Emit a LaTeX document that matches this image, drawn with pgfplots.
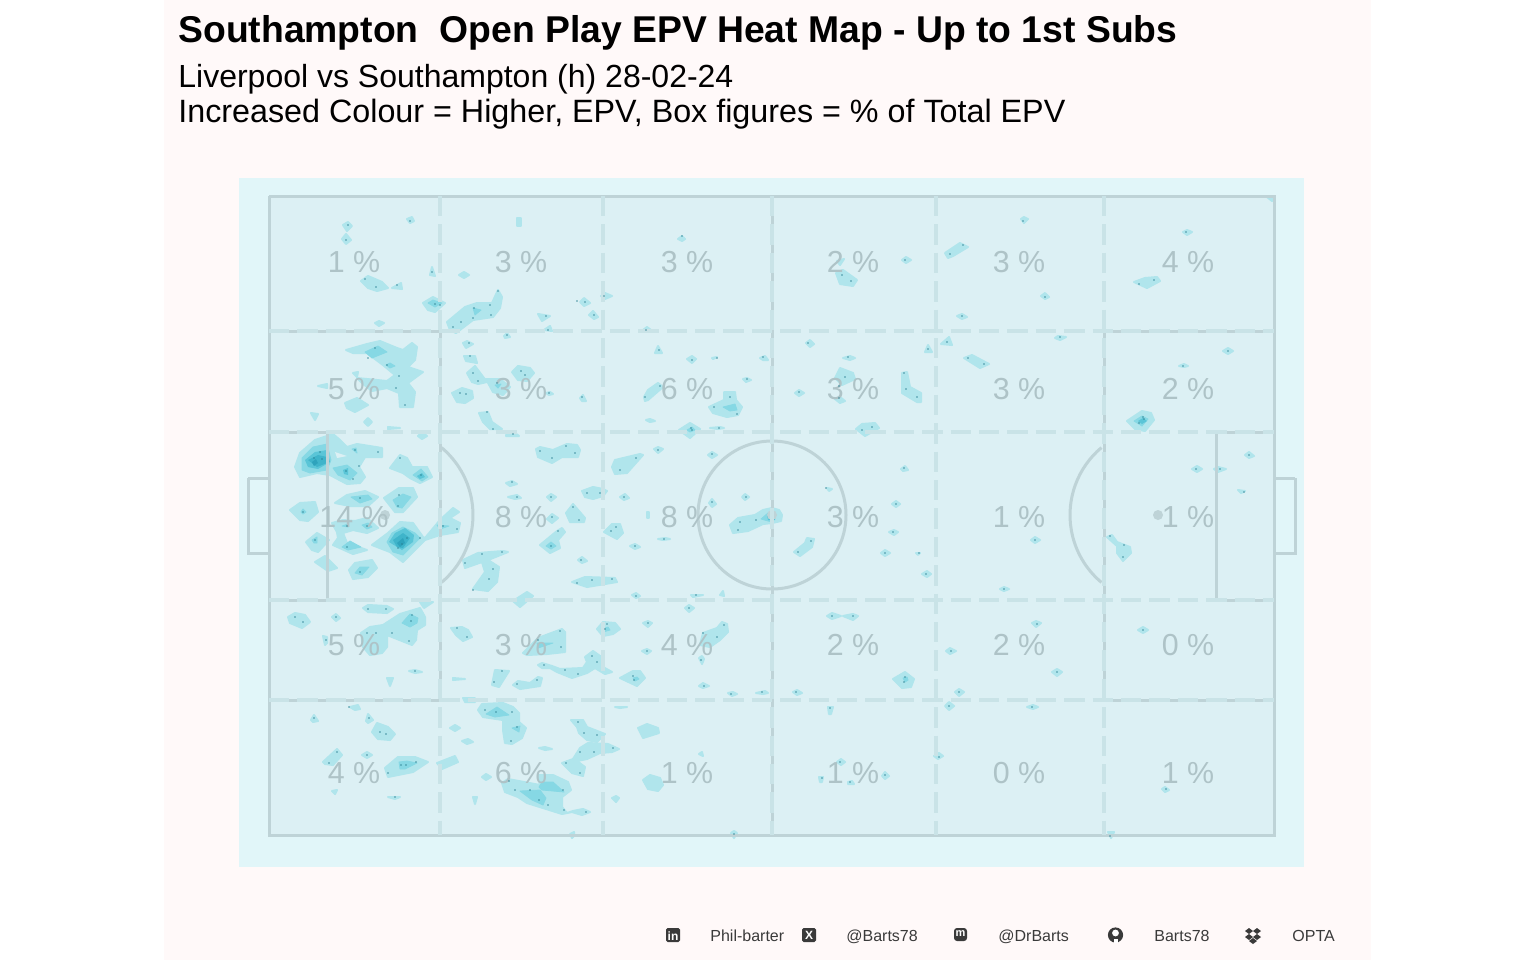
\documentclass[border=0pt]{standalone}
\usepackage{pgfplots}
\pgfplotsset{compat=1.18}
\usepackage{fontspec}
\setmainfont{Liberation Sans}
\definecolor{panel}{HTML}{FFF9F9}
\definecolor{pitchouter}{HTML}{E1F6F9}
\definecolor{pitchin}{HTML}{DCF0F4}
\definecolor{lineS}{HTML}{BED3D7}
\definecolor{lineD}{HTML}{C9E3E7}
\definecolor{pct}{HTML}{AEC3C7}
\definecolor{lvA}{HTML}{B0E5EC}
\definecolor{lvB}{HTML}{86D8E4}
\definecolor{lvC}{HTML}{5AC5D7}
\definecolor{lvD}{HTML}{3FB4CA}
\definecolor{lvE}{HTML}{2EA3BC}
\definecolor{dotc}{HTML}{2A7F90}
\definecolor{foot}{HTML}{3A3A3A}
\newcommand{\A}[1]{\addplot[draw=lvA,line width=1pt,line join=round,fill=lvA] coordinates {#1} --cycle;}
\newcommand{\B}[1]{\addplot[draw=lvB,line width=0.4pt,line join=round,fill=lvB] coordinates {#1} --cycle;}
\newcommand{\C}[1]{\addplot[draw=none,fill=lvC] coordinates {#1} --cycle;}
\newcommand{\D}[1]{\addplot[draw=none,fill=lvD] coordinates {#1} --cycle;}
\newcommand{\E}[1]{\addplot[draw=none,fill=lvE] coordinates {#1} --cycle;}
\newcommand{\pctl}[3]{\node[anchor=base,text=pct,font=\fontsize{15.2pt}{18pt}\selectfont,inner sep=0pt] at (axis cs:#1,#2) {#3};}
\newcommand{\solid}[1]{\addplot[draw=lineS,line width=1.5pt] coordinates {#1};}
\newcommand{\dashd}[1]{\addplot[draw=lineD,line width=2pt,dash pattern=on 10.2pt off 4pt] coordinates {#1};}
\begin{document}
\begin{tikzpicture}
\begin{axis}[width=768pt,height=480pt,scale only axis,xmin=0,xmax=1536,ymin=0,ymax=960,y dir=reverse,hide axis,clip=false]
\fill[white] (axis cs:0,0) rectangle (axis cs:1536,960);
\fill[panel] (axis cs:164,0) rectangle (axis cs:1371,960);
\fill[pitchouter] (axis cs:239,178) rectangle (axis cs:1304,867);
\fill[pitchin] (axis cs:269,196) rectangle (axis cs:1274,835);
% --- contour blobs: left penalty area
\A{(346,350)(367,344)(380,341)(397,348)(403,350)(412,343)(417,347)(415,360)(408,367)(423,372)(408,383)(415,392)(413,407)(400,407)(399,393)(387,388)(372,391)(362,383)(357,378)(387,381)(395,375)(383,365)(367,353)(353,353)}
\B{(365,352)(378,346)(387,352)(372,358)}
\B{(386,365)(390,363)(395,366)(390,368)}
\A{(345,403)(357,398)(368,405)(355,412)(347,408)}
\A{(353,373)(358,372)(357,377)}
\A{(318,386)(327,384)(327,388)}
\A{(311,413)(318,414)(315,420)}
\A{(364,422)(368,418)(372,422)(368,426)}
\A{(388,427)(400,428)(388,429)}
\A{(375,323)(379,321)(384,323)(379,326)}
\A{(418,436)(422,432)(427,436)(422,439)}
\A{(295,467)(300,453)(315,440)(333,434)(340,440)(347,447)(357,444)(382,448)(382,457)(365,457)(359,467)(365,477)(360,483)(347,484)(330,475)(317,473)(300,477)}
\addplot[draw=none,fill=pitchin] coordinates {(335,452)(347,456)(337,458)} --cycle;
\B{(302,458)(313,447)(327,444)(331,460)(327,470)(310,473)(302,470)}
\C{(305,460)(315,452)(327,450)(330,462)(318,469)(308,467)}
\D{(308,460)(318,455)(327,457)(327,463)(317,467)}
\E{(312,462)(316,459)(318,463)(314,466)}
\B{(333,468)(347,465)(357,473)(350,480)(338,475)}
\C{(343,470)(348,468)(348,475)(344,474)}
\B{(352,449)(356,448)(357,453)}
\A{(390,468)(400,455)(407,458)(412,467)(427,467)(432,477)(420,483)(410,478)(403,473)}
\B{(413,475)(421,469)(428,477)(422,481)}
\C{(417,476)(422,473)(425,477)(420,479)}
\A{(384,498)(399,488)(413,488)(417,497)(403,512)(395,512)}
\B{(393,500)(403,494)(411,497)(402,508)(397,507)}
\A{(335,503)(347,495)(365,491)(378,497)(368,506)(350,506)}
\B{(351,497)(368,495)(372,499)(360,503)}
\A{(290,510)(300,503)(315,502)(318,512)(308,521)(300,520)}
\B{(301,512)(303,509)(306,512)(303,514)}
\A{(332,523)(343,520)(355,521)(367,518)(378,528)(367,533)(353,530)(343,533)(347,543)(367,550)(353,554)(333,545)(338,538)(337,532)}
\B{(342,547)(350,541)(361,547)(348,550)}
\B{(362,525)(368,523)(372,527)(367,529)}
\B{(342,526)(348,524)(348,527)}
\A{(306,542)(317,533)(329,540)(318,552)(312,550)}
\B{(312,540)(317,537)(317,543)(314,543)}
\A{(315,562)(325,556)(337,568)(328,571)}
\A{(349,570)(355,563)(372,560)(377,568)(368,577)(353,579)}
\B{(355,573)(360,567)(369,567)(362,575)}
\A{(372,545)(388,533)(400,522)(413,523)(423,537)(425,538)(440,520)(453,508)(459,512)(450,518)(460,523)(458,532)(440,535)(425,540)(403,562)(390,552)}
\B{(387,542)(392,533)(403,527)(415,533)(420,538)(403,555)(393,552)}
\C{(389,542)(395,533)(405,528)(414,535)(413,542)(402,550)}
\D{(393,540)(403,533)(410,538)(403,548)(397,547)}
\E{(397,543)(403,538)(405,543)(400,547)}
\B{(437,525)(449,526)(440,529)}
% --- lower left
\A{(288,617)(295,613)(305,615)(310,622)(302,628)(290,623)}
\A{(332,617)(336,614)(340,618)(336,621)}
\A{(363,608)(368,605)(387,606)(393,609)(387,613)(368,612)}
\A{(420,602)(433,602)(424,608)}
\A{(361,633)(370,627)(383,625)(400,614)(420,608)(425,617)(425,625)(417,630)(416,640)(412,645)(387,635)(387,647)(382,653)(370,655)(363,647)}
\B{(402,623)(410,614)(418,618)(417,623)(410,627)}
\A{(323,636)(327,637)(327,643)(325,645)}
\A{(409,671)(415,670)(422,672)(415,673)}
\A{(387,678)(393,678)(390,686)}
\A{(350,707)(358,705)(360,709)(355,710)}
\A{(311,720)(314,715)(318,721)(313,722)}
\A{(366,721)(368,714)(373,720)(368,723)}
\A{(372,732)(377,723)(388,727)(395,734)(390,740)(378,739)}
\A{(323,762)(337,749)(342,755)(333,765)(325,764)}
\A{(362,755)(367,752)(372,755)(367,758)}
\A{(385,768)(398,757)(415,757)(428,762)(413,772)(388,777)}
\B{(399,762)(407,761)(417,763)(405,769)(400,769)}
\A{(332,791)(337,790)(335,794)}
\A{(388,797)(400,797)(395,799)}
\A{(437,763)(455,756)(458,762)(442,769)}
% --- col 2/3 lower
\A{(513,601)(527,592)(533,596)(520,607)}
\A{(451,628)(462,627)(468,630)(472,637)(463,641)(456,635)}
\A{(523,653)(538,638)(562,629)(565,632)(565,652)(547,654)(527,655)}
\B{(537,643)(553,643)(538,648)}
\A{(492,685)(495,670)(509,671)(499,687)}
\A{(513,685)(518,681)(530,683)(538,677)(542,678)(540,686)(520,689)}
\A{(453,678)(465,679)(453,680)}
\A{(538,665)(542,663)(552,666)(560,669)(583,668)(587,662)(585,657)(593,651)(603,658)(603,667)(612,672)(605,674)(595,668)(587,673)(572,678)(557,672)(550,668)(542,668)}
\A{(597,629)(603,622)(615,623)(620,629)(613,634)(603,636)}
\B{(602,629)(608,627)(610,630)(603,632)}
\A{(643,623)(648,621)(652,623)(648,627)}
\A{(642,651)(647,649)(651,651)(647,654)}
\A{(620,678)(633,671)(640,671)(645,678)(637,686)}
\B{(633,678)(637,677)(639,679)(635,681)}
\A{(463,698)(475,698)(475,702)(465,702)}
\A{(478,710)(482,704)(503,703)(513,707)(519,713)(519,722)(526,728)(522,738)(512,744)(505,743)(503,730)(503,720)(483,717)}
\B{(486,714)(497,707)(509,715)(495,717)}
\B{(512,728)(520,726)(519,732)}
\A{(450,728)(455,725)(460,728)(455,731)}
\A{(462,741)(468,739)(473,742)(467,744)}
\A{(539,748)(545,747)(552,749)(545,750)}
\A{(571,720)(583,720)(587,727)(605,734)(597,742)(587,740)(579,733)(577,727)}
\A{(562,763)(573,759)(580,748)(588,743)(608,744)(619,749)(612,752)(600,753)(587,759)(577,761)(585,767)(583,776)(572,773)}
\A{(502,783)(508,779)(540,785)(538,775)(553,775)(568,782)(571,790)(562,797)(562,807)(567,813)(573,811)(583,809)(590,812)(582,815)(572,812)(562,814)(543,808)(527,803)(518,797)(505,792)}
\B{(539,787)(542,782)(553,782)(564,792)(542,790)}
\B{(520,791)(540,790)(546,798)(543,805)(532,800)}
\A{(482,777)(486,774)(491,777)(486,780)}
\A{(473,797)(477,797)(475,804)}
\A{(612,798)(616,796)(619,798)(616,802)}
\A{(615,707)(627,707)(620,708)}
\A{(638,728)(647,724)(658,728)(659,733)(643,738)}
\A{(643,780)(650,775)(660,778)(663,785)(658,791)(648,789)}
\A{(570,834)(574,832)(574,836)(572,838)}
% --- top rows col 2/3
\A{(517,218)(521,218)(521,226)(517,226)}
\A{(459,275)(464,272)(469,275)(464,278)}
\A{(447,322)(465,307)(477,303)(492,303)(498,290)(502,297)(500,308)(493,317)(473,320)(456,333)(450,330)}
\B{(473,308)(481,310)(475,315)}
\A{(423,303)(433,297)(445,303)(435,312)(428,310)}
\B{(428,303)(433,300)(442,303)(435,307)}
\A{(580,302)(584,298)(590,303)(584,306)}
\A{(589,315)(593,311)(598,317)(594,319)}
\A{(538,314)(550,316)(542,321)}
\A{(544,330)(550,326)(552,331)}
\A{(601,296)(605,293)(612,296)(605,299)}
\A{(678,239)(682,236)(685,239)(682,241)}
\A{(643,330)(647,327)(651,330)(647,332)}
\A{(504,336)(507,333)(510,337)(505,338)}
\A{(463,343)(467,341)(473,344)(466,348)}
\A{(464,356)(475,356)(477,363)(466,361)}
\A{(467,373)(475,366)(487,382)(478,384)(472,382)}
\A{(486,379)(500,379)(510,387)(503,395)(493,392)}
\B{(495,385)(501,384)(498,388)}
\A{(512,372)(518,366)(530,368)(534,373)(527,381)(518,380)}
\A{(452,393)(462,388)(472,391)(473,398)(465,403)(457,402)}
\A{(546,393)(550,392)(553,394)(549,395)}
\A{(580,398)(583,395)(586,401)(582,401)}
\A{(479,413)(488,412)(492,422)(502,429)(490,429)(483,422)}
\A{(506,435)(515,433)(519,436)(506,436)}
\A{(644,397)(648,390)(658,383)(663,387)(648,400)(645,401)}
\A{(709,407)(724,400)(724,392)(735,392)(736,400)(742,407)(738,415)(727,417)(713,413)}
\B{(723,407)(735,404)(737,410)(730,411)}
\A{(646,420)(650,419)(655,421)(650,422)}
\A{(679,430)(690,423)(700,429)(690,438)}
\B{(687,430)(692,427)(695,430)(690,432)}
\A{(710,428)(720,427)(724,428)(718,429)}
\A{(658,346)(662,353)(655,353)}
\A{(687,359)(692,356)(696,359)(692,363)}
\A{(712,358)(717,357)(713,359)}
\A{(760,358)(765,356)(768,360)(763,360)}
\A{(743,379)(747,378)(751,380)(746,382)}
% --- middle band
\A{(536,449)(540,447)(553,450)(567,444)(577,445)(580,450)(578,457)(562,457)(552,463)(538,457)}
\A{(506,483)(512,481)(517,484)(510,486)}
\A{(508,497)(517,495)(521,498)(515,499)}
\A{(547,497)(551,494)(556,497)(551,501)}
\A{(582,491)(593,487)(603,489)(607,491)(603,496)(593,499)(585,497)}
\A{(612,467)(615,460)(640,454)(643,455)(627,473)(615,474)}
\A{(654,449)(658,447)(663,449)(658,453)}
\A{(708,455)(712,452)(717,455)(712,458)}
\A{(620,497)(625,494)(629,498)(624,500)}
\A{(742,497)(745,494)(749,497)(745,500)}
\A{(709,503)(712,499)(716,504)(712,507)}
\A{(566,513)(573,504)(585,518)(584,522)(570,522)}
\A{(547,519)(552,514)(558,518)(552,523)}
\A{(540,545)(557,531)(562,528)(565,532)(558,540)(560,548)(550,553)}
\B{(546,546)(551,542)(556,546)(551,549)}
\A{(604,532)(612,524)(620,524)(623,533)(617,539)}
\A{(630,546)(635,544)(640,547)(635,549)}
\A{(658,539)(665,538)(670,539)(663,540)}
\A{(647,512)(649,512)(649,518)(647,518)}
\A{(578,560)(582,557)(587,561)(582,563)}
\A{(730,525)(738,518)(755,515)(763,510)(772,508)(779,510)(782,515)(781,521)(772,523)(763,524)(748,531)(733,533)}
\B{(761,519)(768,513)(775,515)(773,522)(768,521)}
\C{(767,515)(775,516)(775,520)(768,520)}
\A{(463,560)(478,553)(503,551)(508,552)(488,560)(499,567)(497,582)(488,591)(473,589)(485,572)(482,562)(465,568)}
\A{(572,582)(585,577)(615,578)(617,582)(587,587)}
\A{(632,595)(636,593)(640,596)(636,598)}
\A{(691,595)(703,595)(693,597)}
\A{(720,595)(723,591)(724,596)}
% --- col 3/4 lower
\A{(685,608)(689,605)(694,608)(689,612)}
\A{(703,633)(717,628)(722,622)(727,624)(728,632)(720,640)(710,647)(700,645)}
\A{(699,658)(702,656)(704,659)(702,664)}
\A{(699,686)(703,683)(709,686)(703,688)}
\A{(728,693)(733,692)(737,694)(732,696)}
\A{(756,693)(765,691)(768,693)(763,694)}
\A{(793,692)(797,690)(802,693)(797,695)}
\A{(827,616)(832,613)(841,616)(832,619)}
\A{(843,616)(853,614)(858,616)(853,620)}
\A{(893,679)(905,672)(914,679)(911,687)(902,688)}
\B{(903,678)(907,677)(908,680)(905,682)}
\A{(828,707)(833,707)(831,714)(829,714)}
\A{(699,754)(702,752)(703,756)}
\A{(837,762)(841,759)(845,762)(841,765)}
\A{(819,777)(823,777)(822,782)(820,782)}
\A{(848,782)(852,781)(854,784)(848,784)}
\A{(882,776)(885,772)(889,776)(885,779)}
\A{(731,833)(734,831)(737,833)(734,838)}
% --- upper right
\A{(1021,219)(1024,217)(1028,219)(1024,223)}
\A{(902,260)(906,257)(911,260)(906,263)}
\A{(836,273)(843,270)(857,280)(853,286)(840,284)}
\A{(837,261)(844,259)(840,265)}
\A{(945,253)(960,243)(968,247)(953,256)(948,258)}
\A{(1041,296)(1045,293)(1049,297)(1045,299)}
\A{(957,316)(962,314)(967,317)(962,319)}
\A{(1183,232)(1187,230)(1192,232)(1187,235)}
\A{(1134,282)(1145,278)(1157,277)(1160,281)(1147,288)}
\A{(1267,197)(1273,197)(1272,201)}
\A{(806,343)(810,340)(814,344)(810,347)}
\A{(843,358)(850,356)(855,358)(850,360)}
\A{(925,352)(928,345)(932,352)}
\A{(941,344)(949,337)(952,345)}
\A{(1055,338)(1058,336)(1066,337)(1060,340)}
\A{(964,358)(972,355)(989,364)(980,368)}
\A{(835,378)(840,368)(853,373)(855,379)(842,385)}
\A{(795,393)(799,390)(804,393)(799,396)}
\A{(835,399)(840,397)(845,401)(840,403)}
\A{(902,373)(907,372)(910,387)(921,393)(921,402)(917,402)(902,393)}
\A{(856,429)(862,424)(875,423)(879,428)(865,436)}
\A{(1179,366)(1184,364)(1188,366)(1184,367)}
\A{(1223,351)(1228,348)(1233,351)(1228,354)}
\A{(1127,421)(1142,411)(1151,413)(1154,420)(1145,431)(1135,429)}
\B{(1134,421)(1142,416)(1148,419)(1142,426)}
\C{(1138,421)(1143,418)(1147,421)(1142,424)}
% --- middle right
\A{(901,469)(905,466)(908,470)(903,471)}
\A{(827,488)(832,489)(829,491)}
\A{(892,504)(896,501)(900,504)(896,507)}
\A{(889,532)(894,530)(898,532)(894,535)}
\A{(881,553)(885,550)(890,553)(885,556)}
\A{(794,552)(805,543)(807,538)(814,539)(812,547)(800,556)}
\A{(916,553)(920,553)(918,555)}
\A{(922,574)(927,571)(931,574)(927,577)}
\A{(1031,540)(1035,537)(1040,540)(1035,543)}
\A{(1000,589)(1004,587)(1009,589)(1004,591)}
\A{(1107,537)(1112,535)(1117,542)(1130,547)(1131,553)(1123,561)(1117,553)(1117,546)}
\A{(1192,469)(1197,466)(1202,469)(1197,472)}
\A{(1214,469)(1218,467)(1226,469)(1218,472)}
\A{(1245,455)(1249,452)(1254,456)(1249,458)}
\A{(1238,490)(1245,491)(1241,493)}
% --- lower right
\A{(1032,623)(1036,621)(1041,623)(1036,627)}
\A{(946,651)(950,648)(956,651)(950,654)}
\A{(1052,672)(1057,669)(1062,672)(1057,676)}
\A{(955,692)(959,689)(964,692)(959,696)}
\A{(945,706)(949,702)(954,706)(949,710)}
\A{(1027,707)(1033,705)(1038,707)(1033,709)}
\A{(934,756)(939,753)(943,756)(938,759)}
\A{(1138,630)(1143,627)(1148,630)(1143,633)}
\A{(1162,789)(1165,787)(1169,790)(1165,792)}
\A{(1108,832)(1114,832)(1111,838)}
% --- top left
\A{(343,225)(348,222)(352,226)(347,231)}
\A{(342,239)(346,234)(351,240)(346,244)}
\A{(361,281)(368,276)(382,282)(388,288)(377,291)(368,288)}
\A{(392,288)(401,283)(402,289)}
\A{(407,219)(412,217)(414,221)(410,223)}
\A{(430,275)(432,267)(435,276)}
% --- event dots
\addplot[only marks,mark=*,mark size=0.16pt,color=dotc,opacity=0.75] coordinates {
(368,358)(375,348)(387,365)(399,376)(396,388)(405,405)(355,450)(320,452)(314,458)(322,459)(346,471)(359,466)(353,479)(378,452)(400,458)(421,475)(399,495)(398,506)(360,498)(303,512)(347,526)(367,526)(315,540)(347,547)(402,544)(407,538)(398,548)(420,538)(457,529)(443,526)(360,572)
(295,617)(303,622)(336,617)(368,609)(386,609)(412,615)(411,621)(392,633)(409,641)(367,633)(376,633)(326,640)(415,671)(349,707)(314,718)(369,718)(380,732)(386,734)(337,752)(329,763)(367,755)(401,765)(406,765)(416,762)(388,773)(395,797)
(457,628)(467,637)(538,640)(560,631)(561,647)(502,671)(494,682)(517,684)(537,680)(544,665)(565,670)(578,674)(592,656)(597,662)(607,624)(605,629)(648,623)(647,651)(633,676)(634,680)(485,710)(496,712)(512,712)(511,741)(517,727)(578,722)(584,733)(597,735)(580,752)(594,752)(613,748)(566,763)(580,773)
(509,781)(515,790)(530,790)(539,800)(548,805)(564,810)(586,812)(563,790)(473,318)(461,322)(453,327)(490,305)(498,291)(491,315)(474,308)(435,304)(440,305)
(577,301)(585,302)(594,315)(546,316)(548,330)(604,296)(682,236)(646,330)(507,335)(469,343)(470,356)(473,373)(478,381)(497,383)(521,371)(525,375)(460,393)(466,394)(549,393)(582,397)(487,412)(493,429)(513,434)
(645,397)(660,386)(714,407)(730,397)(737,414)(691,428)(692,430)(719,428)(659,350)(692,360)(717,358)(763,357)(747,379)
(540,451)(566,446)(575,453)(552,458)(512,482)(517,497)(551,497)(587,493)(600,493)(636,458)(620,470)(658,450)(712,454)(624,497)(746,497)(712,502)(573,507)(579,520)(552,517)(558,531)(551,546)(611,531)(616,527)(635,546)(664,539)(581,560)(740,522)(738,530)(756,520)(473,590)(489,579)(493,569)(465,563)(482,554)(502,552)(577,583)(592,580)(612,579)(636,596)(696,595)
(689,608)(703,633)(717,637)(724,625)(701,660)(704,686)(731,694)(762,692)(796,692)(832,616)(853,616)(905,677)(904,682)(830,708)(840,762)(822,778)(850,782)(885,775)(734,834)
(1023,221)(905,260)(842,275)(851,281)(950,254)(963,245)(1045,297)(962,316)(1186,232)(1139,284)(1154,280)(808,343)(848,357)(928,349)(947,342)(1060,337)(968,358)(984,364)(845,377)(839,386)(799,392)(839,398)(904,373)(906,389)(917,397)(862,430)(872,427)(1183,366)(1228,351)(1139,423)(1144,419)(1143,417)
(904,468)(826,488)(896,504)(893,532)(885,553)(798,552)(811,541)(919,553)(926,574)(1035,540)(1004,589)(1110,536)(1124,545)(1123,557)(1196,469)(1220,469)(1249,455)(1244,492)
(1037,624)(951,651)(1057,672)(959,692)(949,706)(1032,707)(939,757)(1143,630)(1166,789)(1110,836)(348,225)(346,240)(365,279)(376,287)(397,285)(410,221)(432,272)};
% --- pitch lines
\solid{(269,196)(1274,196)(1274,835)(269,835)(269,196)}
\solid{(248,478)(269,478)(269,553)(248,553)(248,478)}
\solid{(1295,478)(1274,478)(1274,553)(1295,553)(1295,478)}
\solid{(269,331)(440,331)(440,700)(269,700)}
\solid{(1274,331)(1104,331)(1104,700)(1274,700)}
\solid{(269,432)(327,432)(327,600)(269,600)}
\solid{(1274,432)(1216,432)(1216,600)(1274,600)}
\solid{(772,196)(772,835)}
\draw[lineS,line width=1.5pt] (axis cs:772,515) circle[radius=37pt];
\draw[lineS,line width=1.5pt] (axis cs:385,515) ++(-50:44pt) arc[start angle=-50,end angle=50,radius=44pt];
\draw[lineS,line width=1.5pt] (axis cs:1158,515) ++(130:44pt) arc[start angle=130,end angle=230,radius=44pt];
\fill[lineS] (axis cs:385,515) circle[radius=2.5pt];
\fill[lineS] (axis cs:1158,515) circle[radius=2.5pt];
\fill[lineS] (axis cs:772,515) circle[radius=2.5pt];
\dashd{(269,331)(1274,331)}
\dashd{(269,432)(1274,432)}
\dashd{(269,600)(1274,600)}
\dashd{(269,700)(1274,700)}
\dashd{(440,196)(440,835)}
\dashd{(603,196)(603,835)}
\dashd{(772,196)(772,835)}
\dashd{(936,196)(936,835)}
\dashd{(1104,196)(1104,835)}
% --- percentages
\pctl{354}{272}{1 \%}\pctl{521}{272}{3 \%}\pctl{687}{272}{3 \%}\pctl{853}{272}{2 \%}\pctl{1019}{272}{3 \%}\pctl{1188}{272}{4 \%}
\pctl{354}{399}{5 \%}\pctl{521}{399}{3 \%}\pctl{687}{399}{6 \%}\pctl{853}{399}{3 \%}\pctl{1019}{399}{3 \%}\pctl{1188}{399}{2 \%}
\pctl{354}{527}{14 \%}\pctl{521}{527}{8 \%}\pctl{687}{527}{8 \%}\pctl{853}{527}{3 \%}\pctl{1019}{527}{1 \%}\pctl{1188}{527}{1 \%}
\pctl{354}{655}{5 \%}\pctl{521}{655}{3 \%}\pctl{687}{655}{4 \%}\pctl{853}{655}{2 \%}\pctl{1019}{655}{2 \%}\pctl{1188}{655}{0 \%}
\pctl{354}{783}{4 \%}\pctl{521}{783}{6 \%}\pctl{687}{783}{1 \%}\pctl{853}{783}{1 \%}\pctl{1019}{783}{0 \%}\pctl{1188}{783}{1 \%}
% --- titles
\node[anchor=base west,inner sep=0pt,font=\fontsize{18.65pt}{20pt}\selectfont\bfseries] at (axis cs:178,42) {Southampton\ \ Open Play EPV Heat Map - Up to 1st Subs};
\node[anchor=base west,inner sep=0pt,font=\fontsize{16pt}{18pt}\selectfont] at (axis cs:178,87) {Liverpool vs Southampton (h) 28-02-24};
\node[anchor=base west,inner sep=0pt,font=\fontsize{16.14pt}{18pt}\selectfont] at (axis cs:178,122) {Increased Colour = Higher, EPV, Box figures = \% of Total EPV};
% --- footer
\newcommand{\ft}[2]{\node[anchor=base west,inner sep=0pt,text=foot,font=\fontsize{8pt}{10pt}\selectfont] at (axis cs:#1,941) {#2};}
\ft{710}{Phil-barter}\ft{846}{@Barts78}\ft{998}{@DrBarts}\ft{1154}{Barts78}\ft{1292}{OPTA}
\fill[foot,rounded corners=0.8pt] (axis cs:666,928) rectangle (axis cs:680,942);
\node[text=white,inner sep=0pt,font=\fontsize{6pt}{6pt}\selectfont\bfseries] at (axis cs:673,936) {in};
\fill[foot,rounded corners=0.8pt] (axis cs:802,928) rectangle (axis cs:816,942);
\node[text=white,inner sep=0pt,font=\fontsize{6pt}{6pt}\selectfont\bfseries] at (axis cs:809,935) {X};
\fill[foot,rounded corners=1.5pt] (axis cs:954,928) rectangle (axis cs:967,941);
\node[text=white,inner sep=0pt,font=\fontsize{5.5pt}{6pt}\selectfont\bfseries] at (axis cs:960.5,933.5) {m};
\fill[foot] (axis cs:1115.5,935) circle[radius=3.8pt];
\fill[white] (axis cs:1115.5,933) circle[radius=1.7pt];
\fill[white] (axis cs:1113.5,939) rectangle (axis cs:1117.5,943);
\foreach \p/\q in {1249/931,1257/931,1249/937,1257/937,1253/941}{
  \edef\tmp{\noexpand\fill[foot] (axis cs:\p-4,\q) -- (axis cs:\p,\q-3) -- (axis cs:\p+4,\q) -- (axis cs:\p,\q+3) -- cycle;}\tmp
}
\end{axis}
\end{tikzpicture}
\end{document}
